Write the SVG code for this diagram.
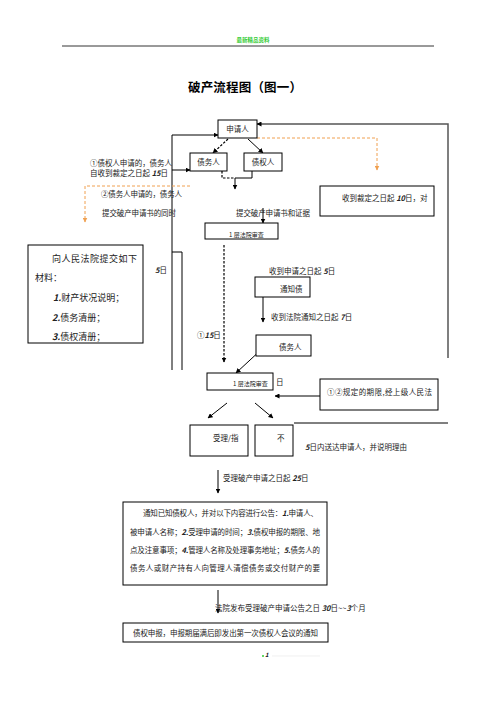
<svg xmlns="http://www.w3.org/2000/svg" width="496" height="702" viewBox="0 0 496 702">
<defs>
<marker id="ah" viewBox="0 0 10 10" refX="9" refY="5" markerWidth="5" markerHeight="5" orient="auto" markerUnits="userSpaceOnUse"><path d="M0,0 L10,5 L0,10 z" fill="#000"/></marker>
<marker id="ao" viewBox="0 0 10 10" refX="9" refY="5" markerWidth="5" markerHeight="5" orient="auto" markerUnits="userSpaceOnUse"><path d="M0,0 L10,5 L0,10 z" fill="#f0a050"/></marker>
</defs>
<style>
text{font-family:"Noto Sans CJK SC","Noto Sans",sans-serif;fill:#222;font-size:7.5px}
.b{fill:#fff;stroke:#000;stroke-width:1}
.c{fill:none;stroke:#000;stroke-width:1}
.d{fill:none;stroke:#000;stroke-width:1.2;stroke-dasharray:2.5,1.5}
.o{fill:none;stroke:#f0a050;stroke-width:1;stroke-dasharray:3,2}
.n{font-weight:bold;font-style:italic}
.m{text-anchor:middle}
.s{font-size:6px}
.l{font-size:9px}
</style>
<rect width="496" height="702" fill="#fff"/>
<text x="253" y="42" class="m" style="font-size:5.5px;fill:#33cc33;font-weight:bold">最新精品资料</text>
<line x1="62" y1="46" x2="434" y2="46" stroke="#000" stroke-width="0.8"/>
<text x="188" y="92" style="font-size:12.5px;font-weight:bold;fill:#000" textLength="114">破产流程图（图一）</text>

<g id="connectors">
<path class="c" d="M172,370 V252 H182" transform="translate(0,0)"/>
<path class="c" d="M182,252 V370"/>
<path class="c" d="M172,252 V135 H218" marker-end="url(#ah)"/>
<path class="c" d="M172,170 H190" marker-end="url(#ah)"/>
<path class="d" d="M228,139 L213,153" marker-end="url(#ah)"/>
<path class="c" d="M248,139 L263,153" marker-end="url(#ah)"/>
<path class="d" d="M222,171 V178 H235"/>
<path class="c" d="M252,171 V178 H235"/>
<path class="c" d="M235,178 V189" marker-end="url(#ah)"/>
<path class="c" d="M263,208 V223" marker-end="url(#ah)"/>
<path class="d" d="M224,245 V362" marker-end="url(#ah)"/>
<path class="c" d="M263,297 V322" marker-end="url(#ah)"/>
<path class="c" d="M263,348 L236,373" marker-end="url(#ah)"/>
<path class="c" d="M227,403 L208,418" marker-end="url(#ah)"/>
<path class="c" d="M255,403 L273,418" marker-end="url(#ah)"/>
<path class="c" d="M320,396 H275" marker-end="url(#ah)"/>
<path d="M448,358 V124 H257" fill="none" stroke="#555" stroke-width="1.5" marker-end="url(#ah)"/>
<path class="c" d="M294,423 H448"/>
<path class="c" d="M218,470 V493" marker-end="url(#ah)"/>
<path class="c" d="M218,590 V613" marker-end="url(#ah)"/>
<path class="o" d="M257,138 H377 V170" marker-end="url(#ao)"/>
<path class="o" d="M190,186 H85 V222" marker-end="url(#ao)"/>
</g>

<g id="n1"><rect class="b" x="218" y="120" width="39" height="18"/><text x="237.5" y="132" class="m">申请人</text></g>
<g id="n2"><rect class="b" x="190" y="153" width="37" height="18"/><text x="208.5" y="165" class="m">债务人</text></g>
<g id="n3"><rect class="b" x="244" y="153" width="38" height="18"/><text x="263" y="165" class="m">债权人</text></g>
<g id="n4"><rect class="b" x="320" y="186" width="114" height="30"/><text x="342" y="201">收到裁定之日起 <tspan class="n">10</tspan>日，对</text></g>
<g id="n5"><rect class="b" x="205" y="223" width="73" height="16"/><text x="229" y="237" class="s">1 层法院审查</text></g>
<g id="n6"><rect class="b" x="28" y="245" width="115" height="98"/>
<text x="52" y="262" class="l" textLength="85">向人民法院提交如下</text>
<text x="35" y="281" class="l">材料：</text>
<text x="53" y="301" class="l"><tspan class="n">1.</tspan>财产状况说明；</text>
<text x="52" y="321" class="l"><tspan class="n">2.</tspan>债务清册；</text>
<text x="52" y="340" class="l"><tspan class="n">3.</tspan>债权清册；</text></g>
<g id="n7"><rect class="b" x="255" y="277" width="55" height="20"/><text x="280" y="292">通知债</text></g>
<g id="n8"><rect class="b" x="256" y="335" width="55" height="21"/><text x="279" y="350">债务人</text></g>
<g id="n9"><rect class="b" x="207" y="373" width="66" height="17"/><text x="233" y="386" class="s">1 层法院审查</text></g>
<g id="n10"><rect class="b" x="320" y="379" width="118" height="31"/><text x="327" y="395" textLength="105">①②规定的期限,经上级人民法</text></g>
<g id="n11"><rect class="b" x="190" y="425" width="58" height="31"/><text x="213" y="441">受理/指</text></g>
<g id="n12"><rect class="b" x="255" y="425" width="38" height="31"/><text x="277" y="441">不</text></g>
<g id="n13"><rect class="b" x="123" y="502" width="204" height="83"/>
<text x="143" y="516" textLength="175">通知已知债权人，并对以下内容进行公告：<tspan class="n">1.</tspan>申请人、</text>
<text x="130" y="535" textLength="190">被申请人名称；<tspan class="n">2.</tspan>受理申请的时间；<tspan class="n">3.</tspan>债权申报的期限、地</text>
<text x="130" y="553" textLength="190">点及注意事项；<tspan class="n">4.</tspan>管理人名称及处理事务地址；<tspan class="n">5.</tspan>债务人的</text>
<text x="130" y="571" textLength="190">债务人或财产持有人向管理人清偿债务或交付财产的要</text></g>
<g id="n14"><rect class="b" x="123" y="623" width="205" height="19"/><text x="133" y="636" textLength="185">债权申报，申报期届满后即发出第一次债权人会议的通知</text></g>

<text x="90" y="166" textLength="82">①债权人申请的，债务人</text>
<text x="90" y="176">自收到裁定之日起 <tspan class="n">15</tspan>日</text>
<text x="101" y="197" textLength="81">②债务人申请的，债务人</text>
<text x="102" y="216" textLength="74">提交破产申请书的同时</text>
<text x="236" y="216" textLength="74">提交破产申请书和证据</text>
<text x="155" y="273"><tspan class="n">5</tspan>日</text>
<text x="269" y="274">收到申请之日起 <tspan class="n">5</tspan>日</text>
<text x="271" y="320">收到法院通知之日起 <tspan class="n">7</tspan>日</text>
<text x="197" y="338">①<tspan class="n">15</tspan>日</text>
<text x="276" y="385">日</text>
<text x="305" y="450"><tspan class="n">5</tspan>日内送达申请人，并说明理由</text>
<text x="223" y="481">受理破产申请之日起 <tspan class="n">25</tspan>日</text>
<text x="215" y="611">法院发布受理破产申请公告之日 <tspan class="n">30</tspan>日~~<tspan class="n">3</tspan>个月</text>
<circle cx="263" cy="656" r="1" fill="#33cc33"/>
<text x="265" y="657" class="n" style="font-size:6px">1</text>
<line x1="272" y1="656" x2="320" y2="656" stroke="#e6e6e6" stroke-width="0.6"/>
</svg>
